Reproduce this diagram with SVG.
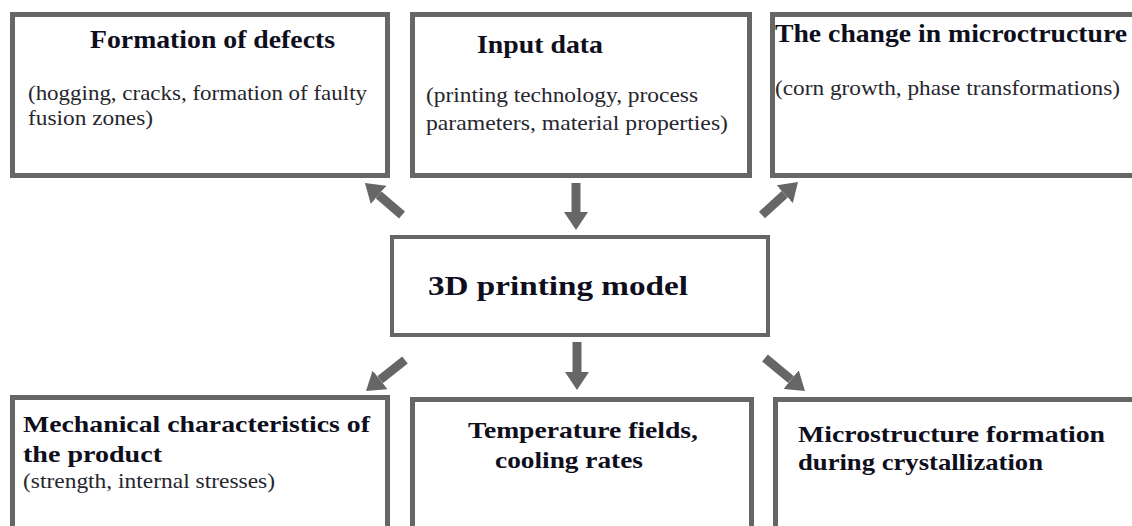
<svg xmlns="http://www.w3.org/2000/svg" width="1132" height="526" viewBox="0 0 1132 526">
<defs>
<style>
.box{fill:#fff;stroke:#666;stroke-width:5}
.ctr{fill:#fff;stroke:#666;stroke-width:4}
.t{font-family:"Liberation Serif","Times New Roman",serif;font-weight:bold;fill:#0e0e1c}
.s{font-family:"Liberation Serif","Times New Roman",serif;fill:#26262e;font-size:21px}
.a{stroke:#666;stroke-width:9;fill:none;marker-end:url(#ah)}
</style>
<marker id="ah" markerUnits="userSpaceOnUse" markerWidth="18" markerHeight="24" refX="0" refY="12" orient="auto">
<path d="M0,0 L18,12 L0,24 z" fill="#666"/>
</marker>
</defs>
<rect width="1132" height="526" fill="#fff"/>
<g id="defects">
<rect class="box" x="12.5" y="14.5" width="375" height="161"/>
<text class="t" font-size="25" x="90" y="48" textLength="245" lengthAdjust="spacingAndGlyphs">Formation of defects</text>
<text class="s" x="28" y="100" textLength="339" lengthAdjust="spacingAndGlyphs">(hogging, cracks, formation of faulty</text>
<text class="s" x="28" y="125" textLength="125" lengthAdjust="spacingAndGlyphs">fusion zones)</text>
</g>
<g id="input">
<rect class="box" x="412.5" y="14.5" width="337" height="161"/>
<text class="t" font-size="25" x="477" y="53" textLength="126" lengthAdjust="spacingAndGlyphs">Input data</text>
<text class="s" x="426" y="102" textLength="272" lengthAdjust="spacingAndGlyphs">(printing technology, process</text>
<text class="s" x="426" y="130" textLength="302" lengthAdjust="spacingAndGlyphs">parameters, material properties)</text>
</g>
<g id="microchange">
<rect class="box" x="772.5" y="14.5" width="372" height="161"/>
<text class="t" font-size="25" x="775" y="42" textLength="352" lengthAdjust="spacingAndGlyphs">The change in microctructure</text>
<text class="s" x="775" y="95" textLength="345" lengthAdjust="spacingAndGlyphs">(corn growth, phase transformations)</text>
</g>
<g id="model">
<rect class="ctr" x="392" y="237" width="376" height="98"/>
<text class="t" font-size="28" x="428" y="295" textLength="260" lengthAdjust="spacingAndGlyphs">3D printing model</text>
</g>
<g id="mechanical">
<rect class="box" x="12.5" y="397.5" width="375" height="140"/>
<text class="t" font-size="24" x="23" y="432" textLength="347" lengthAdjust="spacingAndGlyphs">Mechanical characteristics of</text>
<text class="t" font-size="24" x="23" y="462" textLength="139" lengthAdjust="spacingAndGlyphs">the product</text>
<text class="s" x="23" y="488" textLength="252" lengthAdjust="spacingAndGlyphs">(strength, internal stresses)</text>
</g>
<g id="temperature">
<rect class="box" x="412.5" y="399.5" width="339" height="140"/>
<text class="t" font-size="24" x="468" y="438" textLength="230" lengthAdjust="spacingAndGlyphs">Temperature fields,</text>
<text class="t" font-size="24" x="495" y="468" textLength="148" lengthAdjust="spacingAndGlyphs">cooling rates</text>
</g>
<g id="crystallization">
<rect class="box" x="775.5" y="399.5" width="372" height="140"/>
<text class="t" font-size="24" x="798" y="442" textLength="307" lengthAdjust="spacingAndGlyphs">Microstructure formation</text>
<text class="t" font-size="24" x="798" y="470" textLength="245" lengthAdjust="spacingAndGlyphs">during crystallization</text>
</g>
<g id="connectors">
<line class="a" x1="576" y1="183" x2="576" y2="212"/>
<line class="a" x1="402" y1="215" x2="378.6" y2="194.8"/>
<line class="a" x1="762" y1="215" x2="784.7" y2="194.2"/>
<line class="a" x1="577" y1="342" x2="577" y2="372"/>
<line class="a" x1="405" y1="360" x2="380.1" y2="379.8"/>
<line class="a" x1="765" y1="358" x2="791.1" y2="379.6"/>
</g>
</svg>
